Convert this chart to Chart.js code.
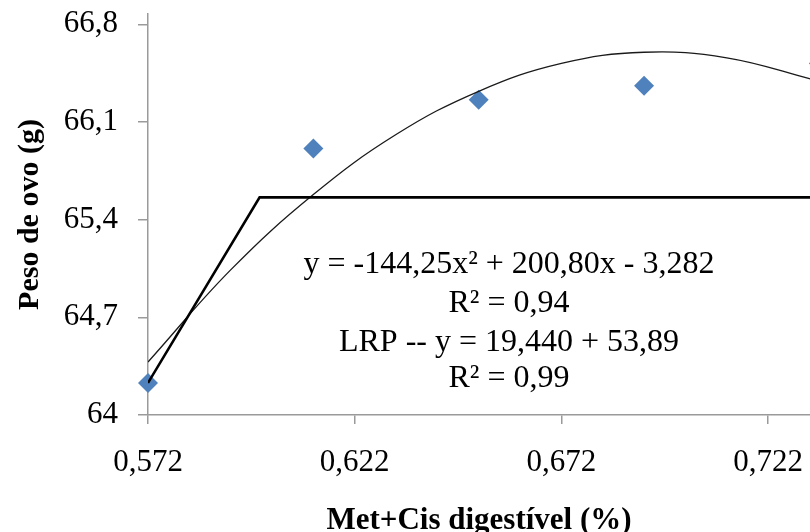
<!DOCTYPE html>
<html>
<head>
<meta charset="utf-8">
<script src="https://cdn.jsdelivr.net/npm/chart.js@4/dist/chart.umd.min.js"></script>
<style>
html,body{margin:0;padding:0;background:#fff;}
#wrap{width:810px;height:532px;position:relative;}
</style>
</head>
<body>
<div id="wrap"><canvas id="c" width="810" height="532"></canvas></div>
<script>
// Observed data (Met+Cis digestível %, Peso de ovo g)
const xObs = [0.572, 0.612, 0.652, 0.692, 0.7343];
const yObs = [64.23, 65.91, 66.26, 66.36, 66.52];
// Quadratic trend line
const xQuad = [0.572, 0.592, 0.612, 0.632, 0.652, 0.672, 0.692, 0.712, 0.732, 0.736];
const yQuad = [64.38, 65.04, 65.58, 66.01, 66.32, 66.52, 66.60, 66.56, 66.41, 66.37];
// Linear response plateau (LRP)
const xLrp = [0.572, 0.599, 0.736];
const yLrp = [64.23, 65.56, 65.56];
// Axis ticks
const xTicks = [0.572, 0.622, 0.672, 0.722];
const xTickLabels = ['0,572', '0,622', '0,672', '0,722'];
const yTicks = [64, 64.7, 65.4, 66.1, 66.8];
const yTickLabels = ['64', '64,7', '65,4', '66,1', '66,8'];
// Annotation text
const eqLines = ['y = -144,25x\u00B2 + 200,80x - 3,282', 'R\u00B2 = 0,94', 'LRP -- y = 19,440 + 53,89', 'R\u00B2 = 0,99'];
const xTitle = 'Met+Cis digestível (%)';
const yTitle = 'Peso de ovo (g)';

const toPts = (xs, ys) => xs.map((x, i) => ({x: x, y: ys[i]}));
const FONT = "'Liberation Serif', 'Times New Roman', serif";
const AXIS = '#9a9a9a';

const eqPlugin = {
  id: 'eq',
  afterDatasetsDraw(chart) {
    const ctx = chart.ctx;
    ctx.save();
    ctx.font = '32px ' + FONT;
    ctx.fillStyle = '#000';
    ctx.textAlign = 'center';
    ctx.textBaseline = 'alphabetic';
    const baselines = [273, 312, 351, 387];
    eqLines.forEach((t, i) => ctx.fillText(t, 509, baselines[i]));
    ctx.restore();
  }
};

new Chart(document.getElementById('c'), {
  type: 'scatter',
  data: {
    datasets: [
      {
        label: 'LRP',
        data: toPts(xLrp, yLrp),
        showLine: true,
        borderColor: '#000',
        borderWidth: 2.6,
        pointRadius: 0,
        fill: false,
        order: 0
      },
      {
        label: 'Quadrática',
        data: toPts(xQuad, yQuad),
        showLine: true,
        borderColor: '#1a1a1a',
        borderWidth: 1.3,
        tension: 0.4,
        pointRadius: 0,
        fill: false,
        order: 1
      },
      {
        label: 'Observado',
        data: toPts(xObs, yObs),
        showLine: false,
        pointStyle: 'rectRot',
        pointRadius: 10,
        pointHoverRadius: 10,
        backgroundColor: '#4F81BD',
        borderColor: '#4F81BD',
        borderWidth: 0,
        clip: false,
        order: 2
      }
    ]
  },
  options: {
    responsive: false,
    animation: false,
    events: [],
    layout: {autoPadding: false, padding: {top: 14, right: 0, bottom: 0, left: 0}},
    plugins: {legend: {display: false}, tooltip: {enabled: false}},
    scales: {
      x: {
        type: 'linear',
        min: 0.572,
        max: 0.73214,
        afterBuildTicks(s) { s.ticks = xTicks.map(v => ({value: v})); },
        afterFit(s) { s.height = 117; s.paddingLeft = 0; s.paddingRight = 0; },
        border: {display: true, color: AXIS, width: 1.5},
        grid: {drawOnChartArea: false, drawTicks: true, tickLength: 9, color: AXIS, lineWidth: 1.5},
        ticks: {
          padding: 20,
          color: '#000',
          font: {family: FONT, size: 31},
          maxRotation: 0,
          autoSkip: false,
          callback: (v) => { const i = xTicks.findIndex(t => Math.abs(t - v) < 1e-9); return i >= 0 ? xTickLabels[i] : ''; }
        },
        title: {display: true, text: xTitle, color: '#000', font: {family: FONT, size: 31, weight: 'bold'}, padding: {top: 0, bottom: -8}}
      },
      y: {
        type: 'linear',
        min: 64,
        max: 66.874,
        afterBuildTicks(s) { s.ticks = yTicks.map(v => ({value: v})); },
        afterFit(s) { s.width = 148; s.paddingTop = 0; s.paddingBottom = 0; },
        border: {display: true, color: AXIS, width: 1.5},
        grid: {drawOnChartArea: false, drawTicks: true, tickLength: 10, color: AXIS, lineWidth: 1.5},
        ticks: {
          padding: 20,
          color: '#000',
          font: {family: FONT, size: 31},
          autoSkip: false,
          callback: (v) => { const i = yTicks.findIndex(t => Math.abs(t - v) < 1e-9); return i >= 0 ? yTickLabels[i] : ''; }
        },
        title: {display: true, text: yTitle, color: '#000', font: {family: FONT, size: 30, weight: 'bold'}, padding: {top: 12, bottom: 0}}
      }
    }
  },
  plugins: [eqPlugin]
});
</script>
</body>
</html>
